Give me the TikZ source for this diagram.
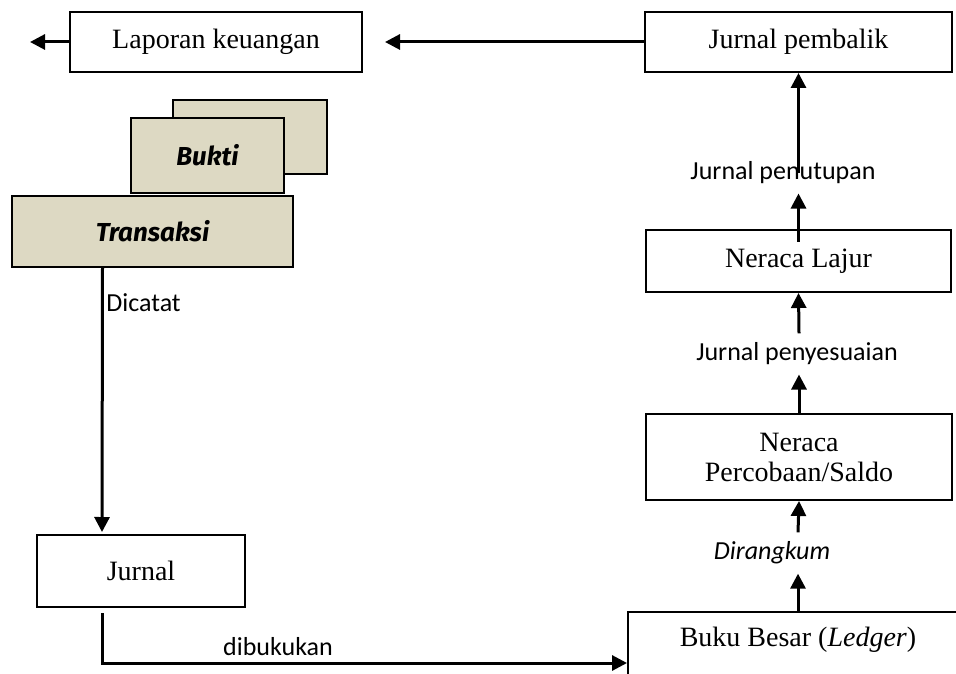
\documentclass[tikz,border=0pt]{standalone}
\usepackage{fontspec}
\setmainfont{Liberation Serif}
\newfontfamily\labelfont{Carlito}
\newfontfamily\brushfont{Fira Sans}
\usepackage{tikz}
\usetikzlibrary{arrows.meta}
\definecolor{docfill}{HTML}{DDD9C3}

\begin{document}
\begin{tikzpicture}[
x=0.5pt, y=-0.5pt,
box/.style={draw, line width=1pt, fill=white, align=center, font=\fontsize{14}{15}\selectfont},
doc/.style={box, fill=docfill, font=\brushfont\bfseries\itshape\fontsize{13}{15}\selectfont},
lbl/.style={inner xsep=0pt, inner ysep=4.5pt, font=\labelfont\fontsize{13}{15}\selectfont},
arr/.style={-{Triangle[width=7.5pt,length=7.5pt]}, line width=1.5pt}
]
\useasboundingbox (0,0) rectangle (956,673);
% Boxes
\node[box, minimum width=146pt, minimum height=30pt] (laporan) at (216,42) {Laporan keuangan};
\node[box, minimum width=153.5pt, minimum height=30pt] (pembalik) at (798.5,42) {Jurnal pembalik};
\node[doc, minimum width=77pt, minimum height=37pt] (buktiback) at (250,137) {};
\node[doc, minimum width=76.5pt, minimum height=37.5pt] (bukti) at (207.5,155.5) {Bukti};
\node[doc, minimum width=140.5pt, minimum height=35.5pt] (transaksi) at (152.5,231.5) {Transaksi};
\node[box, minimum width=104pt, minimum height=36pt] (jurnal) at (141,571) {Jurnal};
\node[box, minimum width=152.5pt, minimum height=31pt] (lajur) at (798.5,261) {Neraca Lajur};
\node[box, minimum width=153pt, minimum height=43pt] (perc) at (799,457) {Neraca\\Percobaan/Saldo};
\node[box, anchor=north west, minimum width=170pt, inner ysep=4pt, text height=13pt, text depth=40pt] (buku) at (627,611) {Buku Besar (\textit{Ledger})};
% Labels
\node[lbl, anchor=west] (dicatat) at (106,303) {Dicatat};
\node[lbl] (dibukukan) at (278,647) {dibukukan};
\node[lbl] (dirangkum) at (772,553) {\itshape Dirangkum};
\node[lbl] (sesuai) at (797,354) {Jurnal penyesuaian};
\node[lbl] (tutup) at (783,173) {Jurnal penutupan};
\coordinate (keluar) at (30,42);
% Arrows
\draw[arr] (laporan.west) -- (keluar);
\draw[arr, shorten >=11pt] (pembalik.west) -- (laporan.east);
\draw[arr] ([xshift=-25pt]transaksi.south) -- ([xshift=-19.5pt,yshift=1pt]jurnal.north);
\draw[arr] ([xshift=-19.5pt,yshift=-2.5pt]jurnal.south) |- ([yshift=-26pt]buku.north west);
\draw[arr] (buku.north) -- (buku.north |- dirangkum.south);
\draw[arr] (buku.north |- dirangkum.north) -- (perc.south);
\draw[arr] (perc.north) -- (perc.north |- sesuai.south);
\draw[arr] (perc.north |- sesuai.north) -- (lajur.south);
\draw[arr] ([yshift=-6.5pt]lajur.north) -- (lajur.north |- tutup.south);
\draw[arr] (tutup.center -| lajur.north) -- (pembalik.south);
\end{tikzpicture}
\end{document}
